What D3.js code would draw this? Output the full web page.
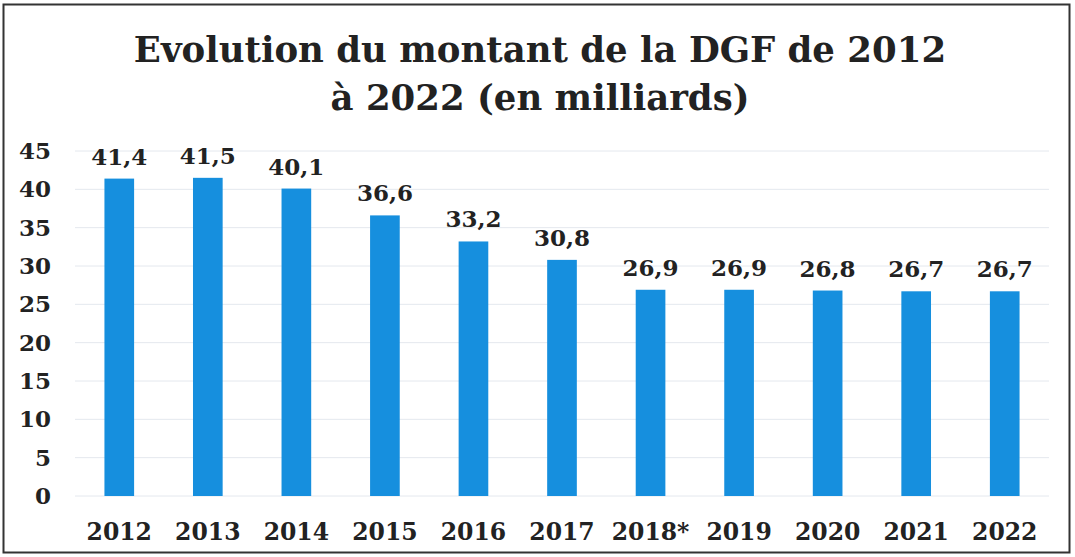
<!DOCTYPE html>
<html>
<head>
<meta charset="utf-8">
<script src="https://cdn.jsdelivr.net/npm/d3@7"></script>
<style>
  body { margin: 0; background: #fff; }
  text { font-family: "DejaVu Serif", serif; font-weight: bold; fill: #222; }
</style>
</head>
<body>
<svg id="chart" width="1075" height="557"></svg>
<script>
// data
var years = ["2012", "2013", "2014", "2015", "2016", "2017", "2018*", "2019", "2020", "2021", "2022"];
var amounts = [41.4, 41.5, 40.1, 36.6, 33.2, 30.8, 26.9, 26.9, 26.8, 26.7, 26.7];
var yTicks = [0, 5, 10, 15, 20, 25, 30, 35, 40, 45];
var titleLines = ["Evolution du montant de la DGF de 2012", "à 2022 (en milliards)"];

var width = 1075,
  height = 557;

var svg = d3.select("#chart");

// scanned frame
svg.append("rect")
  .attr("x", 3.5)
  .attr("y", 4.5)
  .attr("width", width - 9)
  .attr("height", height - 9)
  .attr("fill", "#fff")
  .attr("stroke", "#333")
  .attr("stroke-width", 2);

svg.selectAll(".title")
  .data(titleLines)
  .enter().append("text")
  .attr("class", "title")
  .attr("x", 540)
  .attr("y", (d, i) => 62 + i * 48)
  .attr("text-anchor", "middle")
  .style("font-size", "35.5px")
  .text(d => d);

var x = d3.scaleBand()
  .domain(years)
  .range([75, 1049])
  .paddingInner(0.665)
  .paddingOuter(0.3325);

var y = d3.scaleLinear()
  .domain([0, 45])
  .range([496, 151]);

// grid
svg.append("g")
  .selectAll("line")
  .data(yTicks)
  .enter().append("line")
  .attr("x1", 75)
  .attr("x2", 1049)
  .attr("y1", d => y(d))
  .attr("y2", d => y(d))
  .attr("stroke", "#e4e8ee")
  .attr("stroke-width", 1);

var yAxis = svg.append("g")
  .attr("transform", "translate(51,0)")
  .call(d3.axisLeft(y).tickValues(yTicks).tickSize(0).tickPadding(0));
yAxis.select(".domain").remove();
yAxis.selectAll("text")
  .style("font-size", "23px")
  .style("font-family", "DejaVu Serif")
  .attr("fill", "#222");

var xAxis = svg.append("g")
  .attr("transform", "translate(0,523)")
  .call(d3.axisBottom(x).tickSize(0).tickPadding(0));
xAxis.select(".domain").remove();
xAxis.selectAll("text")
  .attr("dy", "0.71em")
  .style("font-size", "23.5px")
  .style("font-family", "DejaVu Serif")
  .attr("fill", "#222");

svg.selectAll(".bar")
  .data(amounts)
  .enter().append("rect")
  .attr("class", "bar")
  .attr("x", (d, i) => x(years[i]))
  .attr("y", d => y(d))
  .attr("width", x.bandwidth())
  .attr("height", d => y(0) - y(d))
  .attr("fill", "#168fde");

svg.selectAll(".value")
  .data(amounts)
  .enter().append("text")
  .attr("class", "value")
  .attr("x", (d, i) => x(years[i]) + x.bandwidth() / 2)
  .attr("y", d => y(d) - 14)
  .attr("text-anchor", "middle")
  .style("font-size", "23px")
  .text(d => d3.format(".1f")(d).replace(".", ","));
</script>
</body>
</html>
